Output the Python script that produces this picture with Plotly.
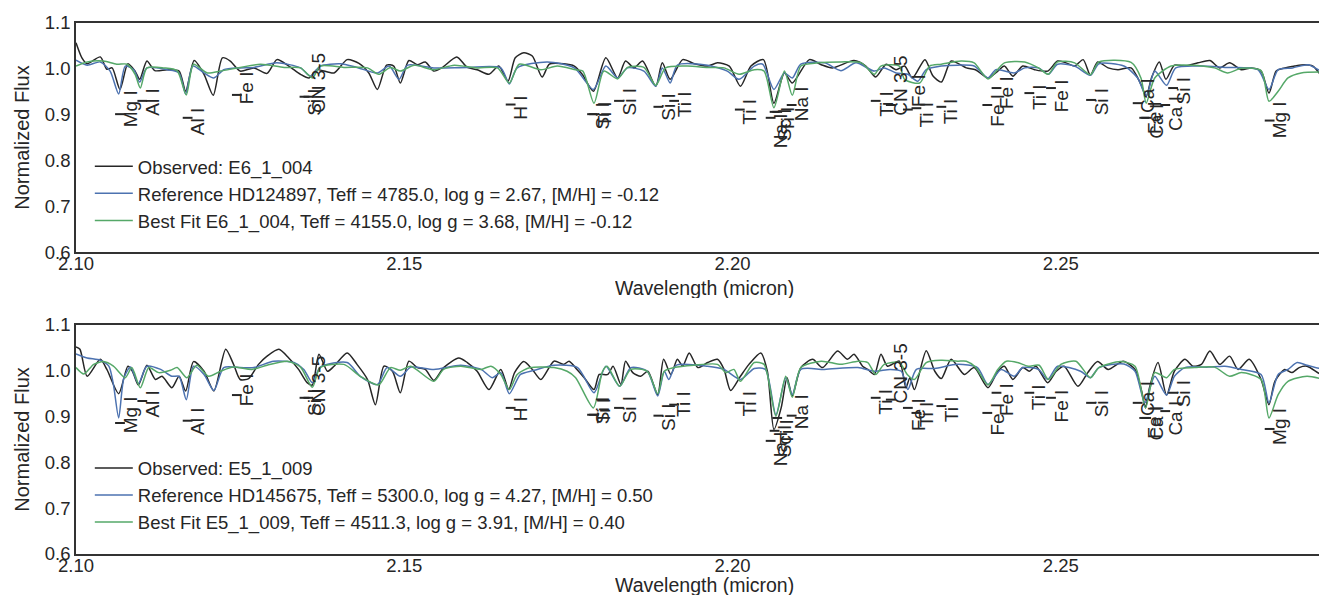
import plotly.graph_objects as go

FONT = "Liberation Sans, Arial, sans-serif"
TXT = "#262626"
C_OBS = "#262626"
C_REF = "#4C72B0"
C_FIT = "#55A868"

# ---------------- axes ----------------
x_range = [2.10, 2.2913]
y_range = [0.6, 1.1]
x_ticks = [2.10, 2.15, 2.20, 2.25]
y_ticks = [0.6, 0.7, 0.8, 0.9, 1.0, 1.1]
x_title = "Wavelength (micron)"
y_title = "Normalized Flux"

# ---------------- legend names ----------------
names_top = ["Observed: E6_1_004",
             "Reference HD124897, Teff = 4785.0, log g = 2.67, [M/H] = -0.12",
             "Best Fit E6_1_004, Teff = 4155.0, log g = 3.68, [M/H] = -0.12"]
names_bot = ["Observed: E5_1_009",
             "Reference HD145675, Teff = 5300.0, log g = 4.27, [M/H] = 0.50",
             "Best Fit E5_1_009, Teff = 4511.3, log g = 3.91, [M/H] = 0.40"]

# ---------------- spectra (wavelength micron, normalized flux) ----------------
obs_top = [(2.1000, 1.057), (2.1009, 1.024), (2.1017, 1.011), (2.1037, 1.026), (2.1047, 0.999), (2.1055, 1.002),
           (2.1067, 0.955), (2.1079, 1.011), (2.1090, 0.995), (2.1097, 0.977), (2.1108, 1.017), (2.1120, 0.996),
           (2.1139, 0.998), (2.1157, 0.995), (2.1167, 0.951), (2.1180, 1.018), (2.1195, 0.988), (2.1209, 0.942),
           (2.1223, 1.024), (2.1235, 1.017), (2.1250, 0.995), (2.1271, 1.002), (2.1291, 0.990), (2.1306, 1.020),
           (2.1324, 1.006), (2.1342, 0.988), (2.1355, 0.980), (2.1367, 0.998), (2.1393, 0.991), (2.1413, 1.020),
           (2.1431, 1.012), (2.1446, 0.991), (2.1459, 0.955), (2.1473, 1.008), (2.1484, 1.006), (2.1494, 0.969),
           (2.1507, 1.018), (2.1520, 1.009), (2.1532, 1.015), (2.1545, 0.995), (2.1558, 1.003), (2.1580, 1.026),
           (2.1596, 1.003), (2.1611, 0.998), (2.1629, 0.988), (2.1644, 1.006), (2.1658, 0.973), (2.1669, 1.024),
           (2.1682, 1.035), (2.1695, 1.028), (2.1710, 0.982), (2.1721, 1.010), (2.1743, 1.011), (2.1759, 1.006),
           (2.1771, 0.988), (2.1788, 0.951), (2.1807, 1.024), (2.1825, 0.980), (2.1837, 1.017), (2.1850, 1.002),
           (2.1863, 1.017), (2.1883, 0.962), (2.1893, 1.013), (2.1905, 0.977), (2.1924, 1.020), (2.1942, 1.011),
           (2.1962, 1.006), (2.1977, 1.013), (2.1995, 1.006), (2.2012, 0.962), (2.2028, 1.006), (2.2047, 1.020),
           (2.2063, 0.925), (2.2079, 0.991), (2.2091, 0.969), (2.2117, 1.020), (2.2135, 1.009), (2.2152, 1.002),
           (2.2185, 1.018), (2.2203, 1.006), (2.2218, 0.982), (2.2234, 1.010), (2.2249, 0.998), (2.2262, 1.006),
           (2.2274, 0.980), (2.2293, 1.020), (2.2305, 0.985), (2.2318, 0.971), (2.2333, 1.017), (2.2356, 1.002),
           (2.2370, 0.998), (2.2389, 0.980), (2.2404, 0.995), (2.2414, 1.006), (2.2427, 0.984), (2.2442, 1.006),
           (2.2460, 0.998), (2.2480, 0.995), (2.2495, 1.017), (2.2508, 1.013), (2.2521, 1.006), (2.2534, 1.020),
           (2.2545, 0.986), (2.2556, 1.015), (2.2572, 1.002), (2.2587, 0.998), (2.2607, 1.002), (2.2622, 0.966),
           (2.2630, 0.940), (2.2638, 0.980), (2.2650, 1.015), (2.2660, 0.977), (2.2673, 1.008), (2.2689, 1.006),
           (2.2709, 1.013), (2.2727, 1.018), (2.2742, 1.002), (2.2757, 1.013), (2.2775, 0.998), (2.2790, 1.002),
           (2.2805, 0.995), (2.2817, 0.947), (2.2828, 0.995), (2.2841, 1.002), (2.2856, 1.006), (2.2871, 1.009),
           (2.2884, 1.006), (2.2899, 0.984), (2.2913, 1.002)]

ref_top = [(2.1000, 1.019), (2.1017, 1.008), (2.1037, 1.015), (2.1052, 0.995), (2.1065, 0.945), (2.1075, 1.006),
           (2.1088, 0.998), (2.1097, 0.971), (2.1108, 1.002), (2.1139, 0.998), (2.1157, 0.991), (2.1167, 0.945),
           (2.1178, 1.006), (2.1195, 0.991), (2.1210, 0.980), (2.1225, 0.998), (2.1250, 1.002), (2.1271, 1.003),
           (2.1306, 1.013), (2.1342, 1.002), (2.1357, 0.984), (2.1372, 1.006), (2.1403, 1.011), (2.1428, 1.003),
           (2.1459, 0.991), (2.1477, 1.006), (2.1492, 0.977), (2.1505, 1.008), (2.1545, 1.002), (2.1596, 1.003),
           (2.1647, 1.002), (2.1660, 0.967), (2.1672, 1.002), (2.1718, 1.015), (2.1759, 1.002), (2.1788, 0.955),
           (2.1807, 1.006), (2.1825, 0.980), (2.1840, 1.002), (2.1865, 0.995), (2.1883, 0.962), (2.1893, 1.002),
           (2.1905, 0.969), (2.1916, 1.008), (2.1962, 1.008), (2.1992, 0.995), (2.2010, 0.977), (2.2033, 1.006),
           (2.2046, 1.010), (2.2063, 0.955), (2.2079, 0.991), (2.2091, 0.980), (2.2104, 1.010), (2.2140, 1.013),
           (2.2165, 0.996), (2.2188, 1.013), (2.2216, 0.995), (2.2231, 1.002), (2.2249, 0.991), (2.2267, 0.988),
           (2.2282, 0.973), (2.2295, 0.998), (2.2318, 1.006), (2.2343, 1.008), (2.2368, 1.006), (2.2389, 0.980),
           (2.2401, 0.998), (2.2429, 0.991), (2.2445, 1.002), (2.2466, 1.002), (2.2481, 0.988), (2.2495, 1.010),
           (2.2521, 1.006), (2.2545, 0.986), (2.2558, 1.011), (2.2596, 1.006), (2.2617, 0.980), (2.2630, 0.940),
           (2.2643, 0.995), (2.2661, 0.964), (2.2675, 1.002), (2.2713, 1.006), (2.2750, 1.003), (2.2800, 0.998),
           (2.2817, 0.955), (2.2831, 0.998), (2.2853, 1.002), (2.2877, 1.009), (2.2896, 0.996), (2.2913, 1.006)]

fit_top = [(2.1000, 1.006), (2.1017, 1.015), (2.1042, 1.017), (2.1062, 1.010), (2.1078, 1.010), (2.1090, 0.988),
           (2.1098, 0.958), (2.1108, 1.002), (2.1134, 1.002), (2.1154, 0.996), (2.1168, 0.943), (2.1179, 1.010),
           (2.1200, 0.991), (2.1220, 0.995), (2.1250, 1.003), (2.1281, 1.010), (2.1317, 1.003), (2.1342, 1.002),
           (2.1360, 0.980), (2.1372, 1.006), (2.1408, 1.003), (2.1444, 1.002), (2.1461, 0.988), (2.1479, 1.003),
           (2.1494, 0.995), (2.1515, 1.008), (2.1545, 0.998), (2.1576, 1.008), (2.1611, 1.002), (2.1642, 1.002),
           (2.1660, 0.969), (2.1675, 1.010), (2.1708, 0.998), (2.1733, 1.006), (2.1761, 0.998), (2.1772, 0.995),
           (2.1789, 0.925), (2.1804, 0.995), (2.1825, 0.978), (2.1840, 1.003), (2.1865, 1.003), (2.1883, 0.964),
           (2.1898, 1.002), (2.1931, 1.006), (2.1962, 1.003), (2.1987, 1.002), (2.2010, 0.988), (2.2033, 0.998),
           (2.2048, 0.995), (2.2063, 0.915), (2.2079, 0.995), (2.2091, 0.942), (2.2104, 1.006), (2.2130, 1.013),
           (2.2165, 1.015), (2.2196, 1.013), (2.2216, 0.988), (2.2226, 1.006), (2.2254, 1.006), (2.2262, 0.977),
           (2.2285, 0.969), (2.2300, 1.006), (2.2318, 1.010), (2.2348, 1.017), (2.2368, 1.013), (2.2389, 0.978),
           (2.2414, 1.013), (2.2445, 1.015), (2.2466, 1.002), (2.2481, 0.988), (2.2495, 1.015), (2.2521, 1.013),
           (2.2545, 0.987), (2.2558, 1.015), (2.2607, 1.014), (2.2622, 0.980), (2.2630, 0.925), (2.2643, 0.980),
           (2.2668, 1.006), (2.2698, 1.008), (2.2734, 1.002), (2.2754, 0.991), (2.2775, 1.001), (2.2805, 0.996),
           (2.2817, 0.929), (2.2831, 0.951), (2.2846, 0.980), (2.2866, 0.991), (2.2913, 0.993)]

obs_bot = [(2.1000, 1.052), (2.1006, 1.047), (2.1017, 0.988), (2.1037, 1.025), (2.1047, 1.003), (2.1065, 0.950),
           (2.1079, 1.010), (2.1086, 0.999), (2.1095, 0.969), (2.1108, 1.012), (2.1121, 0.981), (2.1131, 0.988),
           (2.1146, 0.963), (2.1157, 0.988), (2.1167, 0.956), (2.1179, 1.020), (2.1195, 0.999), (2.1210, 0.956),
           (2.1228, 1.047), (2.1240, 1.014), (2.1250, 0.981), (2.1263, 0.983), (2.1278, 1.014), (2.1291, 1.032),
           (2.1309, 1.047), (2.1324, 1.028), (2.1339, 1.003), (2.1352, 0.974), (2.1360, 0.969), (2.1370, 1.036),
           (2.1383, 0.999), (2.1393, 1.010), (2.1413, 1.039), (2.1428, 1.014), (2.1444, 0.981), (2.1456, 0.926),
           (2.1469, 1.010), (2.1482, 0.999), (2.1494, 0.952), (2.1507, 1.021), (2.1520, 1.007), (2.1532, 1.003),
           (2.1545, 0.979), (2.1560, 1.007), (2.1583, 1.028), (2.1596, 1.018), (2.1611, 0.999), (2.1629, 0.959),
           (2.1647, 1.003), (2.1659, 0.959), (2.1668, 0.996), (2.1682, 1.020), (2.1695, 1.003), (2.1708, 0.981),
           (2.1728, 1.021), (2.1743, 1.014), (2.1751, 1.021), (2.1763, 1.003), (2.1774, 0.985), (2.1789, 0.959),
           (2.1797, 0.992), (2.1810, 0.992), (2.1818, 1.010), (2.1830, 0.970), (2.1837, 1.021), (2.1848, 0.996),
           (2.1860, 0.988), (2.1871, 0.999), (2.1886, 0.948), (2.1895, 1.025), (2.1906, 0.992), (2.1916, 1.025),
           (2.1924, 1.010), (2.1934, 1.039), (2.1947, 1.007), (2.1962, 1.018), (2.1977, 1.025), (2.1987, 1.003),
           (2.1997, 0.957), (2.2012, 0.988), (2.2025, 1.014), (2.2043, 1.039), (2.2053, 0.999), (2.2063, 0.872),
           (2.2074, 0.919), (2.2083, 0.985), (2.2091, 0.945), (2.2104, 1.007), (2.2122, 1.025), (2.2137, 1.007),
           (2.2160, 1.043), (2.2175, 1.025), (2.2185, 1.036), (2.2198, 1.010), (2.2206, 1.003), (2.2216, 0.992),
           (2.2226, 1.036), (2.2236, 1.010), (2.2254, 1.021), (2.2264, 0.963), (2.2270, 0.985), (2.2277, 0.959),
           (2.2295, 1.044), (2.2308, 0.999), (2.2318, 0.983), (2.2333, 1.025), (2.2353, 0.992), (2.2368, 1.007),
           (2.2389, 0.963), (2.2404, 0.999), (2.2414, 1.010), (2.2427, 0.981), (2.2442, 1.007), (2.2452, 0.999),
           (2.2462, 1.010), (2.2480, 0.974), (2.2493, 0.999), (2.2505, 1.010), (2.2526, 0.966), (2.2541, 0.996),
           (2.2556, 1.020), (2.2572, 1.003), (2.2595, 1.021), (2.2613, 1.003), (2.2623, 0.956), (2.2629, 0.919),
           (2.2635, 0.963), (2.2648, 1.018), (2.2661, 0.947), (2.2673, 0.999), (2.2689, 1.025), (2.2701, 1.010),
           (2.2714, 1.014), (2.2727, 1.043), (2.2742, 1.014), (2.2757, 1.032), (2.2770, 1.003), (2.2787, 1.025),
           (2.2805, 0.981), (2.2817, 0.926), (2.2826, 0.977), (2.2841, 1.003), (2.2852, 0.996), (2.2863, 1.007),
           (2.2875, 1.010), (2.2896, 0.992), (2.2913, 0.985)]

ref_bot = [(2.1000, 1.037), (2.1017, 1.028), (2.1037, 1.023), (2.1050, 1.010), (2.1057, 0.970), (2.1065, 0.897),
           (2.1073, 0.985), (2.1083, 1.008), (2.1095, 0.972), (2.1108, 1.010), (2.1129, 1.003), (2.1146, 0.988),
           (2.1157, 0.988), (2.1168, 0.937), (2.1179, 1.010), (2.1195, 0.992), (2.1210, 0.957), (2.1225, 1.007),
           (2.1250, 1.007), (2.1271, 1.007), (2.1301, 1.021), (2.1332, 1.018), (2.1347, 1.003), (2.1360, 0.974),
           (2.1372, 1.008), (2.1413, 1.018), (2.1433, 0.988), (2.1459, 0.970), (2.1474, 1.007), (2.1494, 0.988),
           (2.1510, 1.008), (2.1545, 1.003), (2.1586, 1.012), (2.1617, 1.003), (2.1634, 0.985), (2.1647, 0.996),
           (2.1660, 0.950), (2.1677, 0.992), (2.1698, 1.001), (2.1728, 1.012), (2.1764, 1.007), (2.1789, 0.952),
           (2.1807, 1.010), (2.1828, 0.966), (2.1845, 1.007), (2.1870, 0.999), (2.1886, 0.945), (2.1896, 0.999),
           (2.1903, 0.981), (2.1914, 1.012), (2.1962, 1.010), (2.1987, 1.003), (2.2012, 0.981), (2.2033, 1.005),
           (2.2050, 1.003), (2.2066, 0.904), (2.2081, 0.985), (2.2091, 0.948), (2.2104, 1.003), (2.2140, 1.003),
           (2.2191, 1.007), (2.2216, 0.999), (2.2240, 1.003), (2.2257, 0.999), (2.2267, 0.959), (2.2280, 1.003),
           (2.2308, 1.005), (2.2343, 1.014), (2.2373, 1.007), (2.2389, 0.970), (2.2409, 1.003), (2.2429, 0.988),
           (2.2442, 1.007), (2.2466, 1.003), (2.2480, 0.981), (2.2495, 1.010), (2.2530, 0.999), (2.2545, 0.985),
           (2.2558, 1.007), (2.2596, 1.015), (2.2613, 0.999), (2.2628, 0.930), (2.2643, 0.988), (2.2661, 0.947),
           (2.2673, 0.988), (2.2689, 1.007), (2.2724, 1.008), (2.2750, 1.010), (2.2775, 1.003), (2.2805, 0.992),
           (2.2817, 0.930), (2.2831, 0.992), (2.2846, 1.003), (2.2860, 1.018), (2.2875, 1.012), (2.2896, 1.005),
           (2.2913, 1.012)]

fit_bot = [(2.1000, 1.007), (2.1012, 0.993), (2.1027, 1.014), (2.1042, 1.020), (2.1057, 1.010), (2.1075, 0.985),
           (2.1085, 1.007), (2.1098, 0.963), (2.1111, 1.007), (2.1126, 0.996), (2.1144, 1.001), (2.1154, 1.007),
           (2.1169, 0.985), (2.1184, 1.012), (2.1202, 0.988), (2.1220, 0.999), (2.1240, 1.008), (2.1268, 1.003),
           (2.1291, 1.012), (2.1322, 1.021), (2.1342, 1.008), (2.1360, 0.964), (2.1372, 1.007), (2.1408, 1.014),
           (2.1433, 0.988), (2.1461, 0.969), (2.1479, 1.007), (2.1494, 1.001), (2.1510, 1.010), (2.1545, 0.977),
           (2.1560, 1.003), (2.1586, 1.010), (2.1617, 1.003), (2.1632, 1.010), (2.1647, 0.992), (2.1660, 0.959),
           (2.1672, 0.992), (2.1692, 1.007), (2.1728, 1.007), (2.1748, 0.999), (2.1761, 0.985), (2.1788, 0.919),
           (2.1802, 0.999), (2.1809, 1.010), (2.1828, 0.966), (2.1845, 1.003), (2.1870, 0.999), (2.1886, 0.950),
           (2.1896, 0.999), (2.1911, 1.007), (2.1941, 1.012), (2.1977, 1.014), (2.1990, 0.996), (2.2002, 1.003),
           (2.2012, 0.977), (2.2033, 1.018), (2.2048, 1.014), (2.2066, 0.901), (2.2081, 0.988), (2.2091, 0.942),
           (2.2104, 1.007), (2.2135, 1.021), (2.2165, 1.014), (2.2191, 1.021), (2.2206, 1.018), (2.2218, 0.992),
           (2.2231, 1.014), (2.2254, 1.018), (2.2266, 0.992), (2.2277, 0.981), (2.2295, 1.018), (2.2318, 1.023),
           (2.2343, 1.021), (2.2356, 1.021), (2.2370, 1.008), (2.2389, 0.969), (2.2404, 1.003), (2.2417, 1.021),
           (2.2434, 1.018), (2.2450, 1.010), (2.2467, 1.012), (2.2481, 0.981), (2.2500, 1.014), (2.2523, 1.021),
           (2.2545, 0.985), (2.2558, 1.007), (2.2591, 1.020), (2.2613, 1.010), (2.2629, 0.919), (2.2643, 0.996),
           (2.2661, 0.985), (2.2673, 1.003), (2.2704, 1.007), (2.2734, 1.008), (2.2757, 0.988), (2.2775, 0.996),
           (2.2805, 0.981), (2.2817, 0.897), (2.2831, 0.948), (2.2846, 0.977), (2.2875, 0.988), (2.2913, 0.976)]

# ---------------- spectral line identifications ----------------
line_names = ["Mg I", "Al I", "Al I", "Fe I", "Si I", "CN 3-5", "H I", "Si I", "Ti I", "Si I",
              "Si I", "Ti I", "Ti I", "Na I", "Sc I", "Ti I", "Na I", "Ti I", "CN 3-5", "Fe I",
              "Ti I", "Ti I", "Fe I", "Fe I", "Ti I", "Fe I", "Si I", "Ca I", "Fe I", "Ca I",
              "Ca I", "Si I", "Mg I"]
line_wl = [2.1067, 2.1101, 2.1170, 2.1245, 2.1348, 2.1354, 2.1662, 2.1786, 2.1789, 2.1827,
           2.1887, 2.1911, 2.2011, 2.2058, 2.2064, 2.2068, 2.2090, 2.2218, 2.2241, 2.2267,
           2.2280, 2.2318, 2.2388, 2.2402, 2.2452, 2.2485, 2.2546, 2.2617, 2.2627, 2.2630,
           2.2659, 2.2671, 2.2818]
label_top_y = [0.939, 0.941, 0.899, 0.980, 0.941, 1.020, 0.925, 0.910, 0.914, 0.943,
               0.930, 0.936, 0.919, 0.888, 0.899, 0.903, 0.947, 0.936, 1.013, 0.974,
               0.914, 0.921, 0.930, 0.969, 0.952, 0.963, 0.941, 0.965, 0.914, 0.908,
               0.925, 0.965, 0.914]
mark_top_y = [0.901, 0.930, 0.893, 0.943, 0.939, 0.939, 0.922, 0.901, 0.901, 0.930,
              0.917, 0.930, 0.911, 0.893, 0.906, 0.906, 0.921, 0.930, 0.921, 0.911,
              0.914, 0.917, 0.921, 0.958, 0.947, 0.958, 0.932, 0.925, 0.893, 0.893,
              0.921, 0.958, 0.887]
label_bot_y = [0.930, 0.941, 0.904, 0.980, 0.945, 1.018, 0.926, 0.926, 0.926, 0.930,
               0.912, 0.941, 0.941, 0.853, 0.868, 0.880, 0.934, 0.945, 1.044, 0.926,
               0.919, 0.930, 0.915, 0.958, 0.956, 0.945, 0.941, 0.963, 0.908, 0.908,
               0.919, 0.963, 0.904]
mark_bot_y = [0.886, 0.934, 0.891, 0.947, 0.941, 0.941, 0.919, 0.904, 0.904, 0.919,
              0.902, 0.926, 0.930, 0.847, 0.869, 0.897, 0.902, 0.941, 0.937, 0.919,
              0.908, 0.923, 0.908, 0.952, 0.952, 0.941, 0.930, 0.930, 0.897, 0.897,
              0.912, 0.952, 0.873]

# ---------------- figure ----------------
fig = go.Figure()

panels = [
    ("x", "y", "legend", names_top, (obs_top, ref_top, fit_top), label_top_y, mark_top_y),
    ("x2", "y2", "legend2", names_bot, (obs_bot, ref_bot, fit_bot), label_bot_y, mark_bot_y),
]
colors = [C_OBS, C_REF, C_FIT]

annotations = []
for xa, ya, lg, names, series, lab_y, mk_y in panels:
    for data, name, col in zip(series, names, colors):
        fig.add_trace(go.Scatter(
            x=[p[0] for p in data], y=[p[1] for p in data], mode="lines", name=name,
            line=dict(color=col, width=1.5, shape="spline", smoothing=0.7),
            xaxis=xa, yaxis=ya, legend=lg, hoverinfo="skip"))
    fig.add_trace(go.Scatter(
        x=line_wl, y=mk_y, mode="markers", showlegend=False, hoverinfo="skip",
        marker=dict(symbol="line-ew", size=7, line=dict(color=TXT, width=2)),
        xaxis=xa, yaxis=ya))
    for nm, wl, yy in zip(line_names, line_wl, lab_y):
        annotations.append(dict(
            x=wl, y=yy, xref=xa, yref=ya, text=nm, showarrow=False, textangle=-90,
            xanchor="center", yanchor="top", xshift=10, yshift=9,
            font=dict(family=FONT, size=19, color=TXT)))

title_font = dict(family=FONT, size=19.5, color=TXT)
# x-axis titles (placed in paper coordinates under each panel)
for ypos in (0.5009, -0.0584):
    annotations.append(dict(x=0.5, y=ypos, xref="paper", yref="paper", text=x_title,
                            showarrow=False, xanchor="center", yanchor="middle",
                            height=20, borderpad=0, font=title_font))

axis_common = dict(
    showgrid=False, zeroline=False, showline=True, mirror=True,
    linecolor="#333333", linewidth=1.6, ticks="", ticklen=0,
    tickfont=dict(family=FONT, size=18.5, color=TXT), automargin=False)

fig.update_layout(
    width=1327, height=595,
    margin=dict(l=68, r=3, t=15, b=49),
    paper_bgcolor="white", plot_bgcolor="white",
    font=dict(family=FONT, color=TXT),
    showlegend=True,
    annotations=annotations,
    xaxis=dict(domain=[0, 1], anchor="y", range=x_range, tickvals=x_ticks, tickformat=".2f",
               ticklabelstandoff=-6, **axis_common),
    yaxis=dict(domain=[0.5687, 1.0], anchor="x", range=y_range, tickvals=y_ticks, tickformat=".1f",
               title=dict(text=y_title, font=dict(family=FONT, size=20, color=TXT), standoff=10),
               **axis_common),
    xaxis2=dict(domain=[0, 1], anchor="y2", range=x_range, tickvals=x_ticks, tickformat=".2f",
                ticklabelstandoff=-6, **axis_common),
    yaxis2=dict(domain=[0.0, 0.4313], anchor="x2", range=y_range, tickvals=y_ticks, tickformat=".1f",
                title=dict(text=y_title, font=dict(family=FONT, size=20, color=TXT), standoff=10),
                **axis_common),
    legend=dict(x=0.011, y=0.765, xanchor="left", yanchor="top", bgcolor="rgba(0,0,0,0)",
                itemwidth=38, font=dict(family=FONT, size=18.5, color=TXT), borderwidth=0),
    legend2=dict(x=0.011, y=0.197, xanchor="left", yanchor="top", bgcolor="rgba(0,0,0,0)",
                 itemwidth=38, font=dict(family=FONT, size=18.5, color=TXT), borderwidth=0),
)

fig.write_html("out.html")
